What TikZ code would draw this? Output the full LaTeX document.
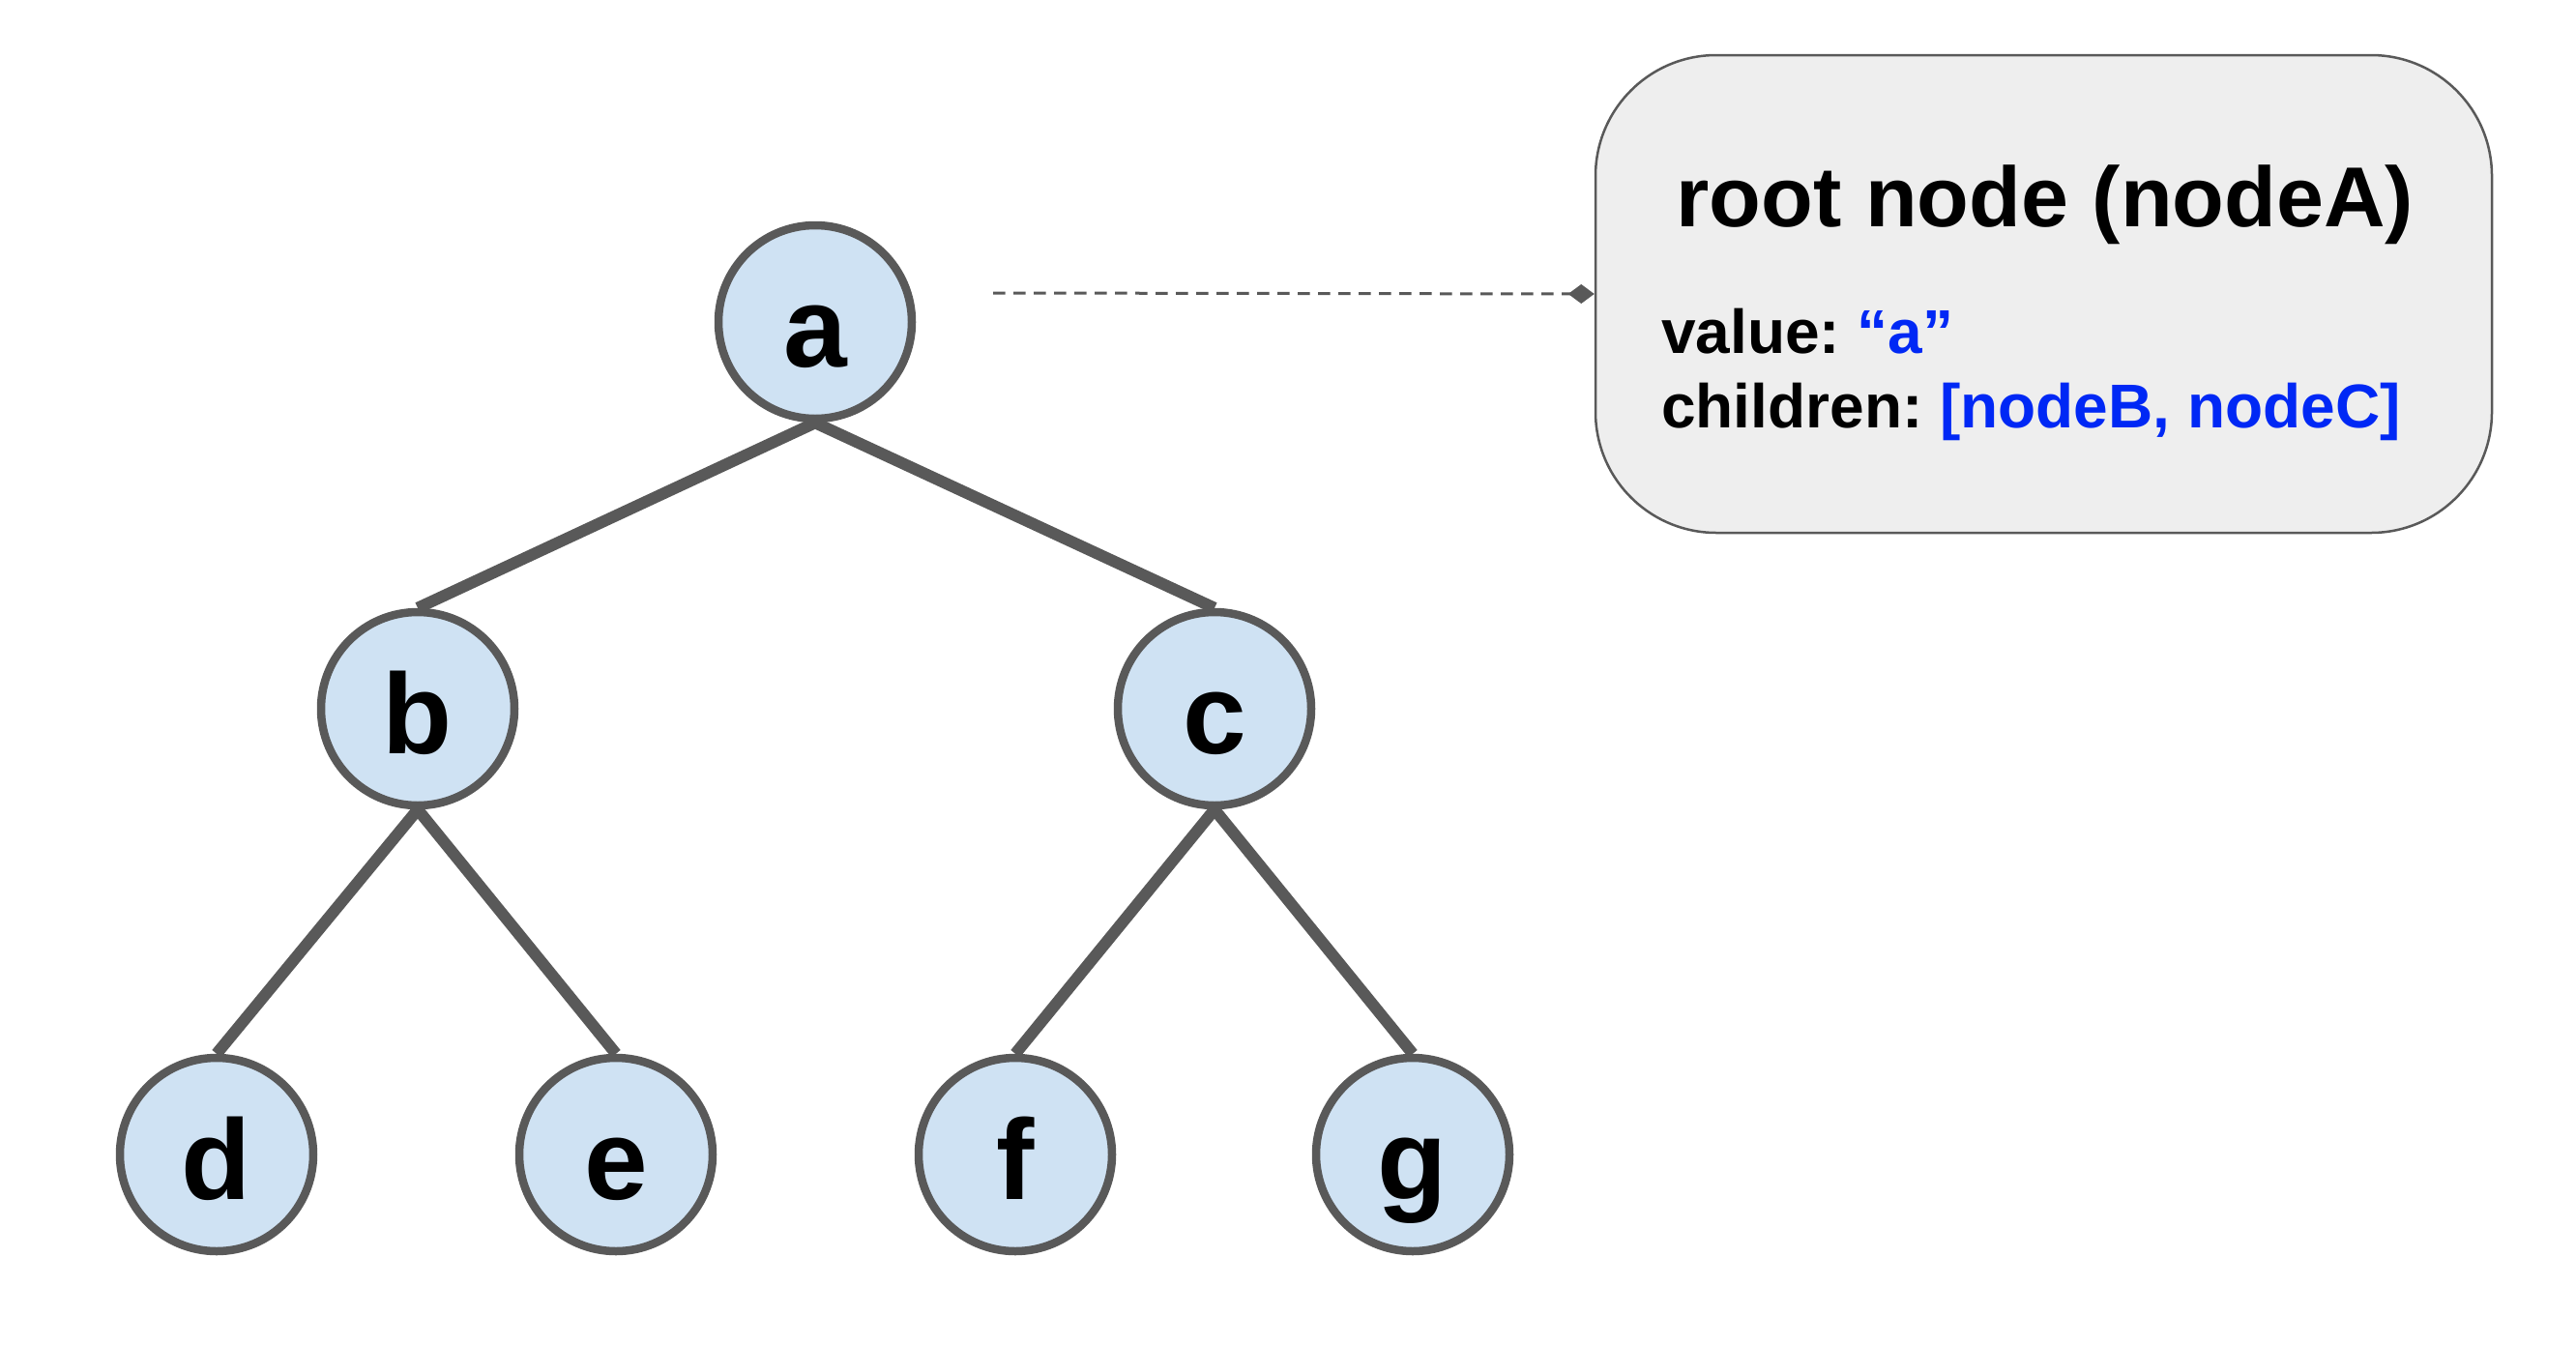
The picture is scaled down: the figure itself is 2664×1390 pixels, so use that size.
\documentclass[tikz,border=0pt]{standalone}
\usepackage{fontspec}
\setmainfont{Liberation Sans}
\usetikzlibrary{arrows.meta}
\definecolor{edgegray}{HTML}{595959}
\definecolor{nodefill}{HTML}{CFE2F3}
\definecolor{boxfill}{HTML}{EEEEEE}
\definecolor{valblue}{RGB}{0,40,245}
\tikzset{
  treenode/.style={circle, draw=edgegray, fill=nodefill, line width=8.5pt,
    minimum size=200pt, inner sep=0pt, text height=92pt, text depth=0pt,
    font=\fontsize{118}{140}\selectfont\bfseries},
  treeedge/.style={draw=edgegray, line width=12pt},
  infobox/.style={draw=edgegray, fill=boxfill, line width=2.5pt,
    rounded corners=125pt, minimum width=927pt, minimum height=494pt, inner sep=0pt},
  titletext/.style={font=\fontsize{88}{100}\selectfont\bfseries, inner sep=0pt},
  bodytext/.style={font=\fontsize{64}{76}\selectfont\bfseries, inner sep=0pt},
  dashlink/.style={draw=edgegray, line width=3pt, dash pattern=on 12.5pt off 8.5pt,
    -{Diamond[length=27pt,width=20pt]}}
}
\begin{document}
\begin{tikzpicture}[x=1pt,y=-1pt]
\useasboundingbox (0,0) rectangle (2664,1390);
% info box
\node[infobox] (box) at (2113.5,304) {};
\node[titletext, anchor=base] (title) at (2115,234) {root node (nodeA)};
\node[bodytext, anchor=base west] (val) at (1718,365) {value:~\textcolor{valblue}{“a”}};
\node[bodytext, anchor=base west] (chl) at (1718,442) {children:~\textcolor{valblue}{[nodeB, nodeC]}};
% tree nodes
\node[treenode] (a) at (843,333) {a};
\node[treenode] (b) at (432,733) {b};
\node[treenode] (c) at (1256,733) {c};
\node[treenode] (d) at (224,1194) {d};
\node[treenode] (e) at (637,1194) {e};
\node[treenode] (f) at (1050,1194) {f};
\node[treenode] (g) at (1461,1194) {g};
% edges
\draw[treeedge] (a.south) -- (b.north);
\draw[treeedge] (a.south) -- (c.north);
\draw[treeedge] (b.south) -- (d.north);
\draw[treeedge] (b.south) -- (e.north);
\draw[treeedge] (c.south) -- (f.north);
\draw[treeedge] (c.south) -- (g.north);
% dashed link
\coordinate (linkstart) at (1027,303);
\draw[dashlink] (linkstart) -- (box.west);
\end{tikzpicture}
\end{document}
